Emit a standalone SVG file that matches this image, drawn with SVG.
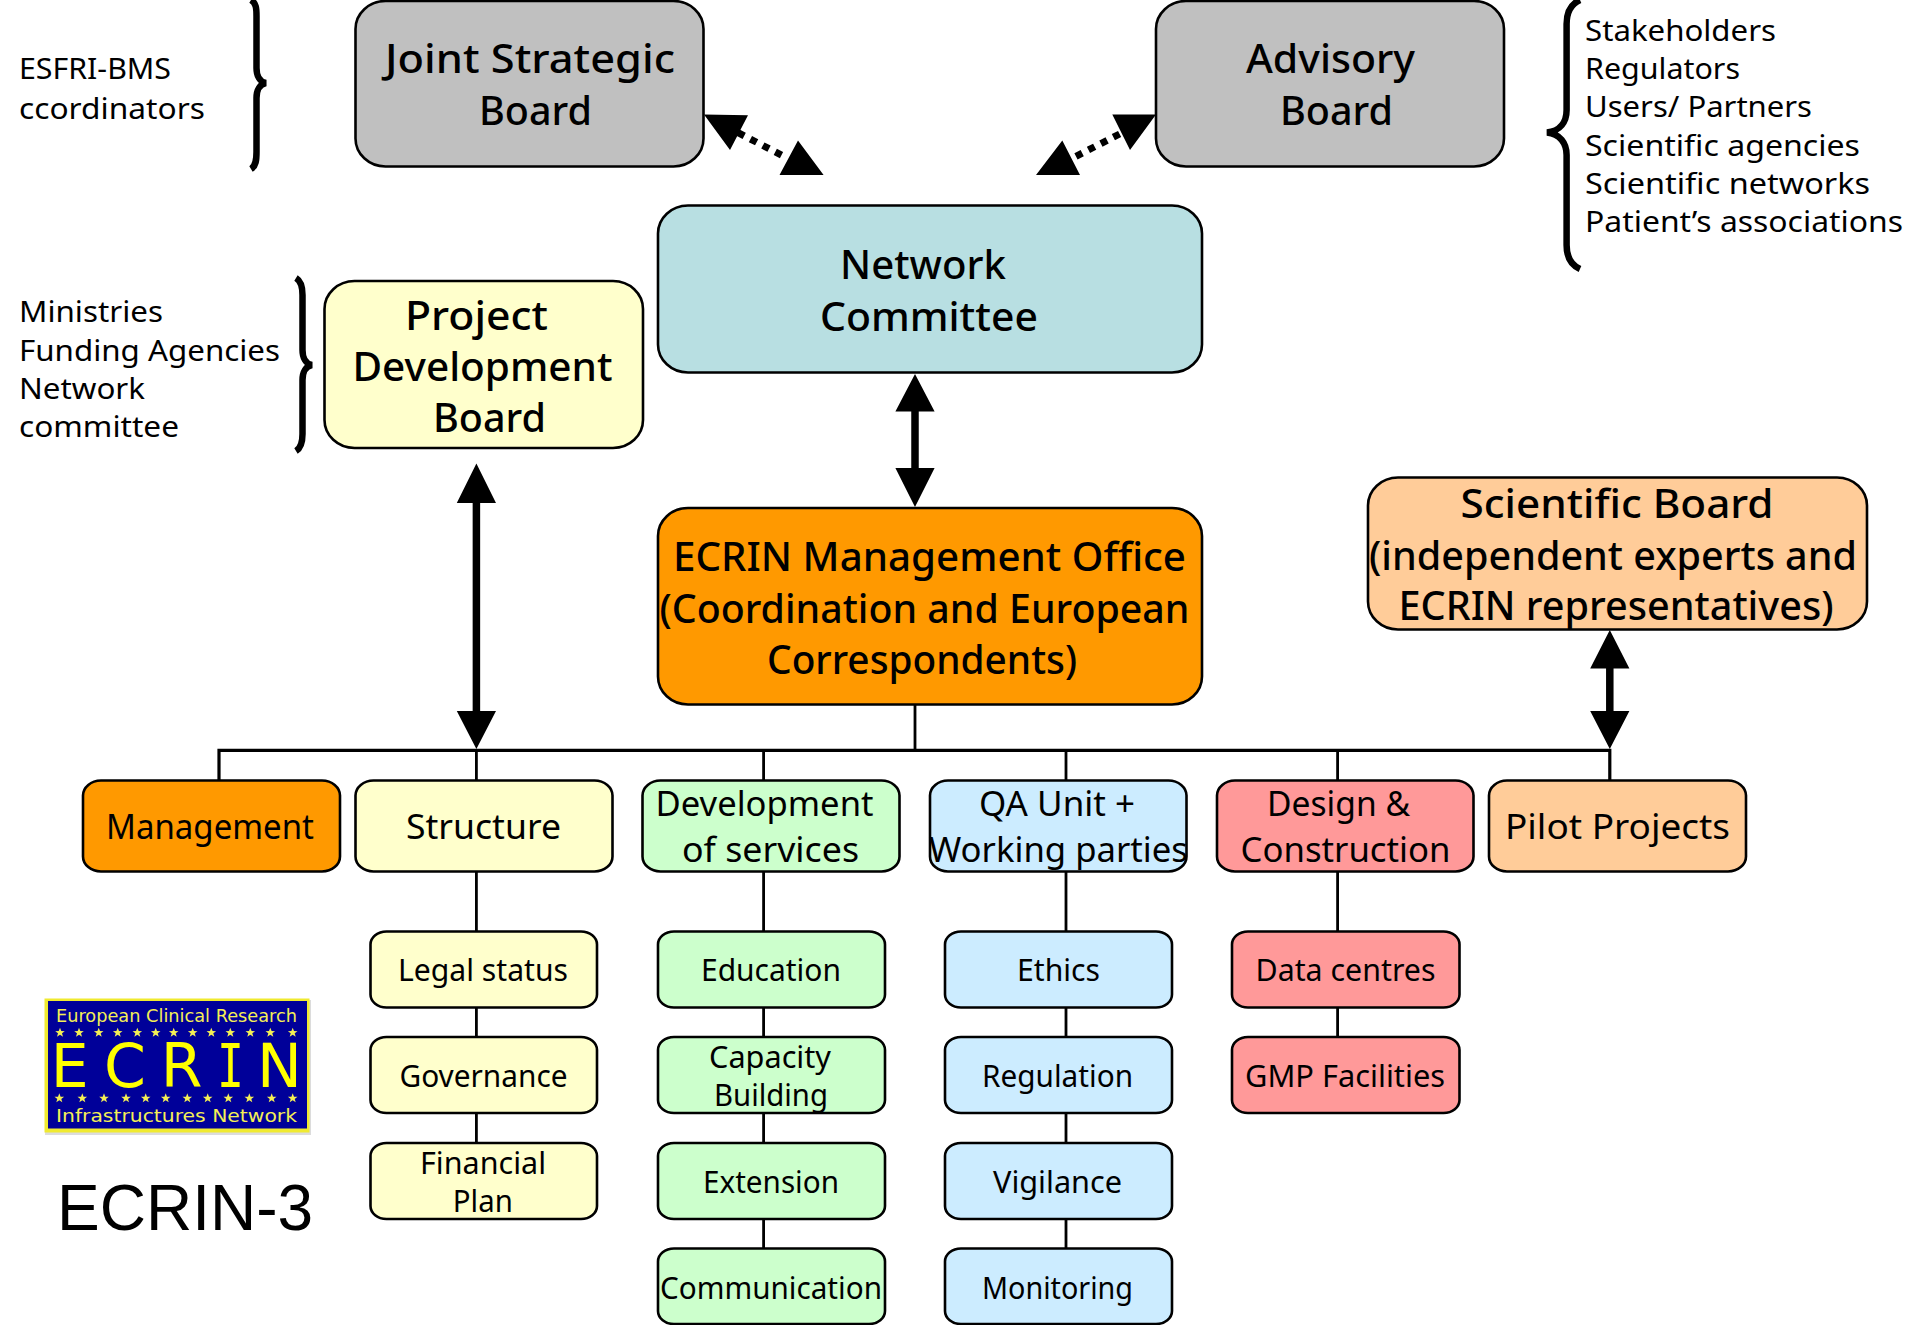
<svg xmlns="http://www.w3.org/2000/svg" xmlns:xlink="http://www.w3.org/1999/xlink" width="1915" height="1325" viewBox="0 0 1915 1325">
<style>
text{font-family:"Noto Sans","Open Sans","DejaVu Sans",sans-serif;fill:#000}
.xl{font-size:40px;font-weight:500}.lg{font-size:35px}.md{font-size:31px}.sm{font-size:29px}
.b{stroke:#000;stroke-width:2.6}
.gray{fill:#c0c0c0}.teal{fill:#b8dfe2}.yel{fill:#ffffcc}.org{fill:#ff9900}.pch{fill:#ffcc99}.grn{fill:#ccffcc}.blu{fill:#ccecff}.red{fill:#ff9999}
.ln{stroke:#000;stroke-width:2.8;fill:none}
.bus{stroke:#000;stroke-width:3.2;fill:none}
.arr{stroke:#000;stroke-width:7.5;fill:none}
.dot{stroke:#000;stroke-width:7;stroke-dasharray:7 7;fill:none}
.hd{fill:#000}
.brace{stroke:#000;stroke-width:6.5;fill:none}
.lt{font-family:"DejaVu Sans",sans-serif;fill:#f4ef55;font-size:17px}
.big{font-family:"DejaVu Sans",sans-serif;font-size:60px;fill:#ffff00}
.star{fill:#f4ef55}
</style>
<defs>
<polygon id="star" points="0,-5 1.3,-1.6 4.8,-1.5 2,0.6 3,4 0,2 -3,4 -2,0.6 -4.8,-1.5 -1.3,-1.6"/>
</defs>
<rect width="1915" height="1325" fill="#fff"/>
<g id="connectors">
<path class="bus" d="M219,781V750.3H1609.8V781"/>
<path class="ln" d="M915,705V750M476.4,750V781M763.6,750V781M1066,750V781M1337.6,750V781"/>
<path class="ln" d="M476.4,871V1143M763.6,871V1249M1066,871V1249M1337.6,871V1037"/>
<path class="arr" d="M476.4,500V714"/>
<path class="arr" d="M915,408V471"/>
<path class="arr" d="M1609.8,665V714"/>
<path class="hd" d="M476.4,463.4L496,503H456.8ZM476.4,749L456.8,711H496Z"/>
<path class="hd" d="M915,374L934.6,411.6H895.4ZM915,507L895.4,468H934.6Z"/>
<path class="hd" d="M1609.8,630L1629.4,668.5H1590.2ZM1609.8,749L1590.2,711H1629.4Z"/>
<path class="dot" d="M738,132.6L787,158"/>
<path class="hd" d="M704,114.5L748,115.3L730,150ZM798,140.6L823.6,175H779.5Z"/>
<path class="dot" d="M1119.6,134L1072.7,158"/>
<path class="hd" d="M1156,114.5H1112.3L1130,150ZM1062.3,140.6L1080,175H1036Z"/>
</g>
<g id="brace-esfri"><path class="brace" d="M251,0C256,3 256.5,8 256.5,16V68C256.5,76 260,82 266,83C260,84 256.5,90 256.5,98V152C256.5,160 256,166 251,169"/>
<text class="sm" x="19" y="79" textLength="152" lengthAdjust="spacingAndGlyphs">ESFRI-BMS</text>
<text class="sm" x="19" y="118.7" textLength="186" lengthAdjust="spacingAndGlyphs">ccordinators</text></g>
<g id="brace-ministries"><path class="brace" d="M296,278C301,281 302.5,287 302.5,295V350C302.5,358 306,364 312,365C306,366 302.5,372 302.5,380V434C302.5,442 301,448 296,451"/>
<text class="sm" x="19" y="321.5" textLength="144" lengthAdjust="spacingAndGlyphs">Ministries</text>
<text class="sm" x="19" y="360.7" textLength="261" lengthAdjust="spacingAndGlyphs">Funding Agencies</text>
<text class="sm" x="19" y="398.6" textLength="126" lengthAdjust="spacingAndGlyphs">Network</text>
<text class="sm" x="19" y="436.9" textLength="160" lengthAdjust="spacingAndGlyphs">committee</text></g>
<g id="brace-stakeholders"><path class="brace" d="M1580,0C1571,4 1566.6,12 1566.6,24V110C1566.6,122 1560,131 1547,132.6C1560,134 1566.6,143 1566.6,155V245C1566.6,257 1571,265 1580,269"/>
<text class="sm" x="1585" y="40.9" textLength="191" lengthAdjust="spacingAndGlyphs">Stakeholders</text>
<text class="sm" x="1585" y="78.7" textLength="155" lengthAdjust="spacingAndGlyphs">Regulators</text>
<text class="sm" x="1585" y="116.6" textLength="227" lengthAdjust="spacingAndGlyphs">Users/ Partners</text>
<text class="sm" x="1585" y="155.6" textLength="275" lengthAdjust="spacingAndGlyphs">Scientific agencies</text>
<text class="sm" x="1585" y="193.5" textLength="285" lengthAdjust="spacingAndGlyphs">Scientific networks</text>
<text class="sm" x="1585" y="231.5" textLength="318" lengthAdjust="spacingAndGlyphs">Patient’s associations</text></g>
<g id="joint-strategic-board"><rect class="b gray" x="355.5" y="1" width="348" height="165.5" rx="30" ry="28"/>
<text class="xl" x="385" y="73.4" textLength="290" lengthAdjust="spacingAndGlyphs">Joint Strategic</text>
<text class="xl" x="479" y="125" textLength="113" lengthAdjust="spacingAndGlyphs">Board</text></g>
<g id="advisory-board"><rect class="b gray" x="1156" y="1" width="348" height="165.5" rx="30" ry="28"/>
<text class="xl" x="1246" y="73.4" textLength="169" lengthAdjust="spacingAndGlyphs">Advisory</text>
<text class="xl" x="1280" y="125" textLength="113" lengthAdjust="spacingAndGlyphs">Board</text></g>
<g id="network-committee"><rect class="b teal" x="658" y="205.5" width="544" height="167" rx="30" ry="28"/>
<text class="xl" x="840" y="279" textLength="166" lengthAdjust="spacingAndGlyphs">Network</text>
<text class="xl" x="820" y="331" textLength="218" lengthAdjust="spacingAndGlyphs">Committee</text></g>
<g id="project-development-board"><rect class="b yel" x="324.5" y="281" width="318.5" height="167" rx="30" ry="28"/>
<text class="xl" x="405" y="330" textLength="143" lengthAdjust="spacingAndGlyphs">Project</text>
<text class="xl" x="352.5" y="381" textLength="260" lengthAdjust="spacingAndGlyphs">Development</text>
<text class="xl" x="433" y="432" textLength="113" lengthAdjust="spacingAndGlyphs">Board</text></g>
<g id="management-office"><rect class="b org" x="658" y="508" width="544" height="196.5" rx="30" ry="28"/>
<text class="xl" x="673" y="571" textLength="513" lengthAdjust="spacingAndGlyphs">ECRIN Management Office</text>
<text class="xl" x="659.5" y="623" textLength="530" lengthAdjust="spacingAndGlyphs">(Coordination and European</text>
<text class="xl" x="767" y="674" textLength="310" lengthAdjust="spacingAndGlyphs">Correspondents)</text></g>
<g id="scientific-board"><rect class="b pch" x="1368" y="477.5" width="499" height="152" rx="30" ry="28"/>
<text class="xl" x="1460.6" y="518" textLength="313" lengthAdjust="spacingAndGlyphs">Scientific Board</text>
<text class="xl" x="1369" y="570" textLength="488" lengthAdjust="spacingAndGlyphs">(independent experts and</text>
<text class="xl" x="1398.5" y="620" textLength="435" lengthAdjust="spacingAndGlyphs">ECRIN representatives)</text></g>
<g id="management"><rect class="b org" x="83" y="780.5" width="257" height="91" rx="18" ry="15"/>
<text class="lg" x="106" y="839" textLength="208" lengthAdjust="spacingAndGlyphs">Management</text></g>
<g id="structure"><rect class="b yel" x="355.5" y="780.5" width="257" height="91" rx="18" ry="15"/>
<text class="lg" x="406" y="839" textLength="155" lengthAdjust="spacingAndGlyphs">Structure</text></g>
<g id="development-of-services"><rect class="b grn" x="642.5" y="780.5" width="257" height="91" rx="18" ry="15"/>
<text class="lg" x="655.5" y="816" textLength="218" lengthAdjust="spacingAndGlyphs">Development</text>
<text class="lg" x="682" y="862" textLength="177" lengthAdjust="spacingAndGlyphs">of services</text></g>
<g id="qa-unit"><rect class="b blu" x="930" y="780.5" width="256.5" height="91" rx="18" ry="15"/>
<text class="lg" x="979" y="816" textLength="156" lengthAdjust="spacingAndGlyphs">QA Unit +</text>
<text class="lg" x="929" y="862" textLength="259" lengthAdjust="spacingAndGlyphs">Working parties</text></g>
<g id="design-construction"><rect class="b red" x="1217" y="780.5" width="256.5" height="91" rx="18" ry="15"/>
<text class="lg" x="1267" y="816" textLength="143" lengthAdjust="spacingAndGlyphs">Design &amp;</text>
<text class="lg" x="1240.5" y="862" textLength="210" lengthAdjust="spacingAndGlyphs">Construction</text></g>
<g id="pilot-projects"><rect class="b pch" x="1489" y="780.5" width="257" height="91" rx="18" ry="15"/>
<text class="lg" x="1505" y="839" textLength="225" lengthAdjust="spacingAndGlyphs">Pilot Projects</text></g>
<g id="legal-status"><rect class="b yel" x="370.5" y="931.5" width="226.5" height="76" rx="16" ry="13"/>
<text class="md" x="398" y="981" textLength="170" lengthAdjust="spacingAndGlyphs">Legal status</text></g>
<g id="governance"><rect class="b yel" x="370.5" y="1037" width="226.5" height="76" rx="16" ry="13"/>
<text class="md" x="399.5" y="1086.6" textLength="168" lengthAdjust="spacingAndGlyphs">Governance</text></g>
<g id="financial-plan"><rect class="b yel" x="370.5" y="1143" width="226.5" height="76" rx="16" ry="13"/>
<text class="md" x="420" y="1174" textLength="126" lengthAdjust="spacingAndGlyphs">Financial</text>
<text class="md" x="452.8" y="1212" textLength="60" lengthAdjust="spacingAndGlyphs">Plan</text></g>
<g id="education"><rect class="b grn" x="658" y="931.5" width="227" height="76" rx="16" ry="13"/>
<text class="md" x="701" y="981" textLength="140" lengthAdjust="spacingAndGlyphs">Education</text></g>
<g id="capacity-building"><rect class="b grn" x="658" y="1037" width="227" height="76" rx="16" ry="13"/>
<text class="md" x="709" y="1068" textLength="122" lengthAdjust="spacingAndGlyphs">Capacity</text>
<text class="md" x="714" y="1106" textLength="114" lengthAdjust="spacingAndGlyphs">Building</text></g>
<g id="extension"><rect class="b grn" x="658" y="1143" width="227" height="76" rx="16" ry="13"/>
<text class="md" x="703" y="1193" textLength="136" lengthAdjust="spacingAndGlyphs">Extension</text></g>
<g id="communication"><rect class="b grn" x="658" y="1248.5" width="227" height="75.5" rx="16" ry="13"/>
<text class="md" x="660" y="1298.7" textLength="222" lengthAdjust="spacingAndGlyphs">Communication</text></g>
<g id="ethics"><rect class="b blu" x="945" y="931.5" width="227" height="76" rx="16" ry="13"/>
<text class="md" x="1017" y="981" textLength="83" lengthAdjust="spacingAndGlyphs">Ethics</text></g>
<g id="regulation"><rect class="b blu" x="945" y="1037" width="227" height="76" rx="16" ry="13"/>
<text class="md" x="982" y="1086.6" textLength="151" lengthAdjust="spacingAndGlyphs">Regulation</text></g>
<g id="vigilance"><rect class="b blu" x="945" y="1143" width="227" height="76" rx="16" ry="13"/>
<text class="md" x="993" y="1193" textLength="129" lengthAdjust="spacingAndGlyphs">Vigilance</text></g>
<g id="monitoring"><rect class="b blu" x="945" y="1248.5" width="227" height="75.5" rx="16" ry="13"/>
<text class="md" x="982" y="1298.7" textLength="151" lengthAdjust="spacingAndGlyphs">Monitoring</text></g>
<g id="data-centres"><rect class="b red" x="1232" y="931.5" width="227.5" height="76" rx="16" ry="13"/>
<text class="md" x="1255.5" y="981" textLength="180" lengthAdjust="spacingAndGlyphs">Data centres</text></g>
<g id="gmp-facilities"><rect class="b red" x="1232" y="1037" width="227.5" height="76" rx="16" ry="13"/>
<text class="md" x="1245" y="1086.6" textLength="200" lengthAdjust="spacingAndGlyphs">GMP Facilities</text></g>
<g id="logo">
<rect x="45" y="1000" width="266" height="135" fill="#dcdcdc"/>
<rect x="44.5" y="998.5" width="265" height="134" fill="#f0ea30"/>
<rect x="48" y="1001" width="259" height="127.5" fill="#000099"/>
<text class="lt" x="56" y="1021.7" textLength="241" lengthAdjust="spacingAndGlyphs">European Clinical Research</text>
<g class="star">
<use href="#star" x="60" y="1032.7"/><use href="#star" x="79" y="1032.7"/><use href="#star" x="98.7" y="1032.7"/><use href="#star" x="117.7" y="1032.7"/><use href="#star" x="137.3" y="1032.7"/><use href="#star" x="155.7" y="1032.7"/><use href="#star" x="173.7" y="1032.7"/><use href="#star" x="192.7" y="1032.7"/><use href="#star" x="211.3" y="1032.7"/><use href="#star" x="230.3" y="1032.7"/><use href="#star" x="250.3" y="1032.7"/><use href="#star" x="270.3" y="1032.7"/><use href="#star" x="292.7" y="1032.7"/>
<use href="#star" x="59.3" y="1098.3"/><use href="#star" x="82.3" y="1098.3"/><use href="#star" x="104" y="1098.3"/><use href="#star" x="126" y="1098.3"/><use href="#star" x="145.7" y="1098.3"/><use href="#star" x="165.7" y="1098.3"/><use href="#star" x="187.3" y="1098.3"/><use href="#star" x="207.7" y="1098.3"/><use href="#star" x="228.3" y="1098.3"/><use href="#star" x="249.3" y="1098.3"/><use href="#star" x="271.7" y="1098.3"/><use href="#star" x="292.7" y="1098.3"/>
</g>
<text class="big" x="50.7 104 160.7" y="1087.3">ECR</text>
<text class="big" x="217" y="1087.3" textLength="27" lengthAdjust="spacingAndGlyphs" style="font-family:'DejaVu Sans Mono',monospace">I</text>
<text class="big" x="257" y="1087.3">N</text>
<text class="lt" x="56" y="1121.7" textLength="241" lengthAdjust="spacingAndGlyphs">Infrastructures Network</text>
</g>
<g id="title"><text x="57" y="1230" style="font-family:'Liberation Sans',Arial,sans-serif;font-size:64px">ECRIN-3</text></g>
</svg>
